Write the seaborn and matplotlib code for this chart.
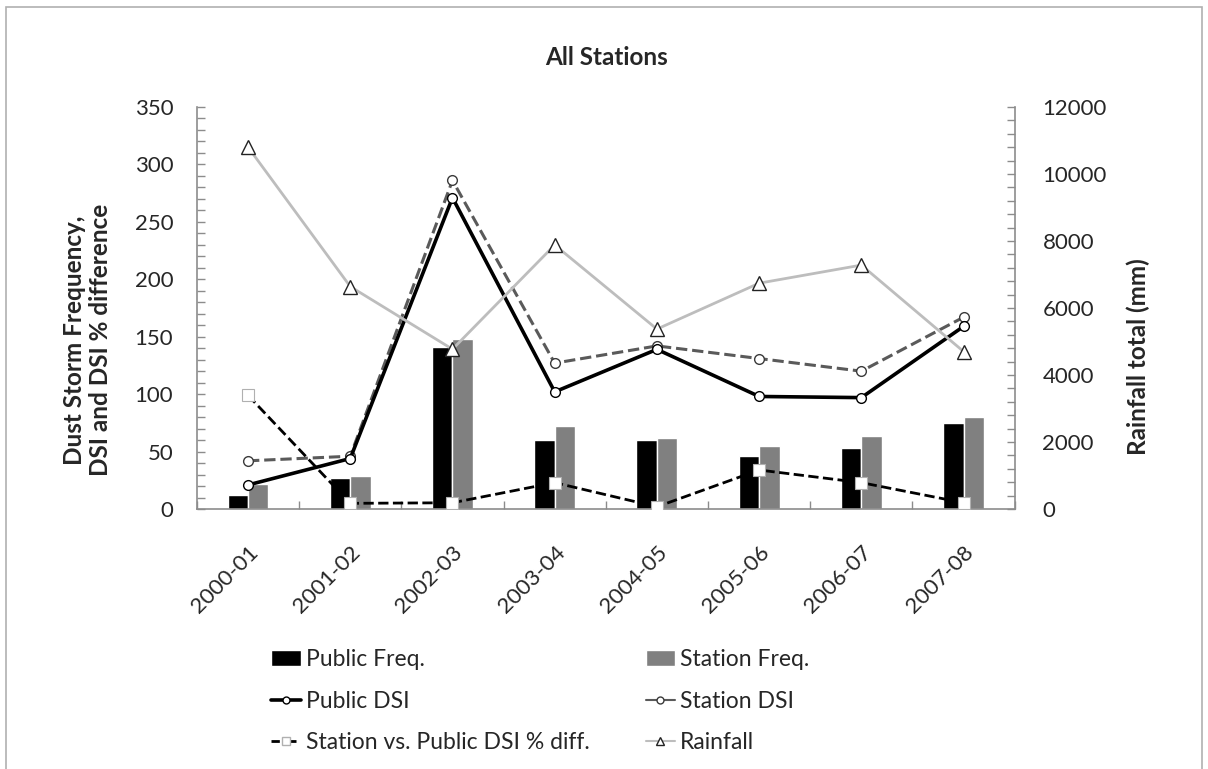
import numpy as np
import pandas as pd
import matplotlib
matplotlib.use("Agg")
import matplotlib.pyplot as plt
from matplotlib.ticker import MultipleLocator, FixedLocator
from matplotlib.patches import Rectangle
from matplotlib.transforms import ScaledTranslation
import seaborn as sns

# ---- data -------------------------------------------------------------
seasons = ["2000-01", "2001-02", "2002-03", "2003-04",
           "2004-05", "2005-06", "2006-07", "2007-08"]
public_freq = [12, 27, 141, 60, 60, 46, 53, 75]
station_freq = [22, 29, 148, 72, 62, 55, 64, 80]
public_dsi = [21, 44, 271, 102, 139, 98, 97, 159]
station_dsi = [42, 46, 286, 127, 142, 131, 120, 167]
dsi_pct_diff = [99, 5, 5.5, 23, 2, 34, 23, 5.5]
rainfall = [10800, 6640, 4770, 7880, 5370, 6740, 7280, 4700]

# ---- style ------------------------------------------------------------
sns.set_theme(style="white")
plt.rcParams["font.family"] = ["Lato", "DejaVu Sans"]
AXIS_GREY = "#8c8c8c"
FS = 16

fig = plt.figure(figsize=(12.08, 7.69), dpi=100)
ax = fig.add_axes([0.163, 0.338, 0.677, 0.523])
ax2 = ax.twinx()

# ---- frequency bars ---------------------------------------------------
freq = pd.DataFrame({
    "season": seasons * 2,
    "count": public_freq + station_freq,
    "kind": ["Public Freq."] * len(seasons) + ["Station Freq."] * len(seasons),
})
sns.barplot(data=freq, x="season", y="count", hue="kind",
            palette={"Public Freq.": "#000000", "Station Freq.": "#808080"},
            width=0.4, gap=0, dodge=True, saturation=1, legend=False,
            ax=ax, zorder=2)

xpos = np.arange(len(seasons))

# ---- DSI lines on the primary axis -------------------------------------
sns.lineplot(x=xpos, y=public_dsi, ax=ax, color="black", lw=2.6,
             marker="o", markersize=7, markerfacecolor="white",
             markeredgecolor="black", markeredgewidth=1.0, zorder=4)
sns.lineplot(x=xpos, y=station_dsi, ax=ax, color="#5a5a5a", lw=2.2,
             linestyle="--", dashes=(4.5, 2.5), marker="o", markersize=7,
             markerfacecolor="white", markeredgecolor="#3a3a3a",
             markeredgewidth=1.0, zorder=3)
sns.lineplot(x=xpos, y=dsi_pct_diff, ax=ax, color="black", lw=2.0,
             linestyle="--", dashes=(9, 5), marker="s", markersize=8,
             markerfacecolor="white", markeredgecolor="#b0b0b0",
             markeredgewidth=0.8, zorder=4)

# ---- rainfall on the secondary axis ------------------------------------
sns.lineplot(x=xpos, y=rainfall, ax=ax2, color="#bdbdbd", lw=2.0,
             marker="^", markersize=10, markerfacecolor="white",
             markeredgecolor="#222222", markeredgewidth=1.0)

# ---- axes ---------------------------------------------------------------
ax.set_xlim(-0.5, len(seasons) - 0.5)
ax.set_ylim(0, 350)
ax2.set_ylim(0, 12000)

ax.yaxis.set_major_locator(MultipleLocator(50))
ax.yaxis.set_minor_locator(MultipleLocator(10))
ax2.yaxis.set_major_locator(MultipleLocator(2000))
ax2.yaxis.set_minor_locator(MultipleLocator(400))

ax.set_xticks(xpos)
ax.set_xticklabels(seasons, rotation=45, ha="right", rotation_mode="anchor",
                   fontsize=FS)
shift = ScaledTranslation(5 / 100, 0, fig.dpi_scale_trans)
for lbl in ax.get_xticklabels():
    lbl.set_transform(lbl.get_transform() + shift)
ax.xaxis.set_minor_locator(FixedLocator(np.arange(-0.5, len(seasons), 1.0)))
ax.tick_params(axis="x", which="major", length=0, pad=24)
ax.tick_params(axis="x", which="minor", length=6, direction="in",
               color=AXIS_GREY, width=1, bottom=True)
ax.tick_params(axis="y", which="both", direction="in", length=6,
               color=AXIS_GREY, width=1, left=True, labelsize=FS, pad=17)
ax2.tick_params(axis="y", which="both", direction="in", length=6,
                color=AXIS_GREY, width=1, right=True, labelsize=FS, pad=20)

for a in (ax, ax2):
    a.set_facecolor("none")
    a.grid(False)
    for side in ("left", "right", "bottom"):
        a.spines[side].set_color(AXIS_GREY)
        a.spines[side].set_linewidth(1.2)
    a.spines["top"].set_visible(False)
ax.spines["right"].set_visible(False)
ax2.spines["left"].set_visible(False)
ax2.spines["bottom"].set_visible(False)

ax.set_xlabel("")
ax.set_ylabel("Dust Storm Frequency,\nDSI and DSI % difference",
              fontsize=FS + 1.5, fontweight="bold", linespacing=1.15)
ax.yaxis.set_label_coords(-0.104, 0.42)
ax2.set_ylabel("Rainfall total (mm)", fontsize=FS + 1.5, fontweight="bold")
ax2.yaxis.set_label_coords(1.137, 0.38)

fig.text(0.502, 0.925, "All Stations", ha="center", va="center",
         fontsize=FS + 1.5, fontweight="bold")

# ---- legend -------------------------------------------------------------
h_pub_bar = Rectangle((0, 0), 1, 1, facecolor="black")
h_sta_bar = Rectangle((0, 0), 1, 1, facecolor="#808080")
h_pub_dsi = plt.Line2D([], [], color="black", lw=2.6, marker="o",
                       markersize=5, markerfacecolor="white",
                       markeredgecolor="black")
h_sta_dsi = plt.Line2D([], [], color="#5a5a5a", lw=1.5, marker="o",
                       markersize=5, markerfacecolor="white",
                       markeredgecolor="#3a3a3a")
h_diff = plt.Line2D([], [], color="black", lw=2.0, linestyle="--",
                    dashes=(3, 3), marker="s", markersize=6,
                    markerfacecolor="white", markeredgecolor="#b0b0b0")
h_rain = plt.Line2D([], [], color="#bdbdbd", lw=1.5, marker="^",
                    markersize=6, markerfacecolor="white",
                    markeredgecolor="#222222")
fig.legend([h_pub_bar, h_pub_dsi, h_diff, h_sta_bar, h_sta_dsi, h_rain],
           ["Public Freq.", "Public DSI", "Station vs. Public DSI % diff.",
            "Station Freq.", "Station DSI", "Rainfall"],
           loc="upper left", bbox_to_anchor=(0.217, 0.168), ncol=2,
           frameon=False, fontsize=FS + 0.5, handlelength=1.3,
           handletextpad=0.2, labelspacing=0.9, columnspacing=2.45,
           borderaxespad=0)

# outer chart frame (open towards the bottom edge)
fig.add_artist(Rectangle((0.005, -0.05), 0.99, 1.041, transform=fig.transFigure,
                         fill=False, edgecolor="#b0b0b0", lw=1.2))

fig.savefig("out.png", dpi=100)
